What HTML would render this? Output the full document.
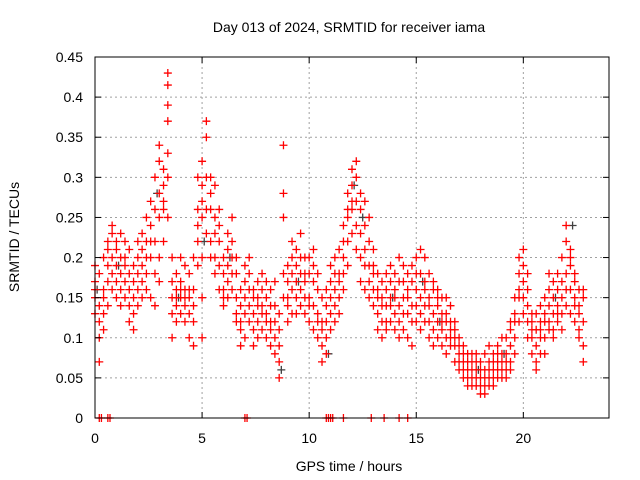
<!DOCTYPE html>
<html><head><meta charset="utf-8"><style>
body{margin:0;background:#fff;}
svg{display:block;font-family:"Liberation Sans",sans-serif;}
</style></head><body>
<svg id="chart" width="640" height="480" viewBox="0 0 640 480">
<rect width="640" height="480" fill="#fff"/>
<text x="349" y="32" font-size="14" text-anchor="middle">Day 013 of 2024, SRMTID for receiver iama</text>
<g id="grid"></g>
<g id="marks"></g>
<g id="axes"></g>
<text x="349" y="471" font-size="14" text-anchor="middle">GPS time / hours</text>
<text transform="translate(19,237) rotate(-90)" font-size="14" text-anchor="middle">SRMTID / TECUs</text>
</svg>
<script>
const xTicks=[0,5,10,15,20];
const yTicks=[0,0.05,0.1,0.15,0.2,0.25,0.3,0.35,0.4,0.45];
const yTickLabels=["0","0.05","0.1","0.15","0.2","0.25","0.3","0.35","0.4","0.45"];
const times=[0.0,0.2,0.4,0.6,0.8,1.0,1.2,1.4,1.6,1.8,2.0,2.2,2.4,2.6,2.8,3.0,3.2,3.4,3.6,3.8,4.0,4.2,4.4,4.6,4.8,5.0,5.2,5.4,5.6,5.8,6.0,6.2,6.4,6.6,6.8,7.0,7.2,7.4,7.6,7.8,8.0,8.2,8.4,8.6,8.8,9.0,9.2,9.4,9.6,9.8,10.0,10.2,10.4,10.6,10.8,11.0,11.2,11.4,11.6,11.8,12.0,12.2,12.4,12.6,12.8,13.0,13.2,13.4,13.6,13.8,14.0,14.2,14.4,14.6,14.8,15.0,15.2,15.4,15.6,15.8,16.0,16.2,16.4,16.6,16.8,17.0,17.2,17.4,17.6,17.8,18.0,18.2,18.4,18.6,18.8,19.0,19.2,19.4,19.6,19.8,20.0,20.2,20.4,20.6,20.8,21.0,21.2,21.4,21.6,21.8,22.0,22.2,22.4,22.6,22.8];
const vals=[[.17,.15,.13,.19,.16],[.12,.07,.14,.10,.18],[.13,.16,.2,.11,.15],[.19,.22,.17,.14,.21],[.2,.24,.18,.16,.23],[.21,.17,.19,.15,.22],[.18,.2,.16,.23,.14],[.19,.15,.17,.22,.2],[.14,.12,.16,.18,.21],[.13,.15,.11,.17,.19],[.16,.2,.22,.14,.18],[.19,.23,.17,.15,.21],[.22,.25,.18,.16,.2],[.24,.27,.2,.15,.22],[.26,.3,.22,.18,.14],[.34,.32,.28,.25,.2,.17],[.29,.26,.22,.27,.31],[.43,.415,.39,.37,.33,.3,.25],[.2,.17,.13,.1,.15],[.16,.14,.18,.12,.15],[.15,.17,.13,.2,.16],[.14,.16,.19,.15,.12],[.13,.1,.15,.18,.16],[.12,.09,.16,.14,.2],[.26,.3,.22,.19,.24],[.29,.32,.27,.25,.2,.15,.1],[.35,.37,.3,.26,.23],[.28,.3,.26,.22,.2],[.25,.29,.23,.2,.18],[.22,.26,.19,.16,.24],[.15,.18,.2,.14,.16],[.17,.21,.15,.23,.19],[.22,.25,.2,.18,.16],[.18,.15,.2,.13,.12],[.12,.09,.14,.11,.16],[.13,.15,.1,.17,.19],[.16,.14,.18,.12,.2],[.13,.16,.11,.15,.09],[.15,.12,.17,.14,.1],[.14,.18,.11,.16,.13],[.13,.1,.15,.17,.12],[.11,.14,.16,.09,.12],[.12,.08,.14,.1,.17],[.07,.05,.09,.11,.13],[.34,.28,.25,.15,.18],[.14,.17,.12,.19,.15],[.16,.2,.13,.18,.22],[.19,.21,.17,.15,.13],[.2,.23,.18,.16,.14],[.18,.15,.2,.13,.17],[.15,.12,.18,.2,.14],[.17,.14,.11,.19,.21],[.13,.1,.16,.12,.18],[.12,.09,.07,.15,.11],[.1,.14,.08,.16,.12],[.13,.17,.11,.19,.15],[.16,.2,.14,.18,.12],[.18,.21,.15,.13,.17],[.2,.24,.18,.16,.22],[.25,.28,.22,.19,.26],[.29,.31,.26,.23,.27],[.3,.32,.27,.24,.21],[.26,.28,.23,.2,.17],[.24,.21,.27,.19,.16],[.22,.25,.19,.17,.15],[.18,.21,.16,.14,.19],[.16,.13,.18,.15,.11],[.15,.12,.17,.14,.1],[.14,.16,.12,.18,.11],[.17,.14,.19,.12,.15],[.16,.13,.18,.11,.15],[.14,.17,.12,.2,.1],[.15,.19,.13,.17,.11],[.16,.13,.18,.15,.1],[.14,.17,.12,.19,.09],[.16,.2,.14,.12,.18],[.18,.21,.15,.13,.11],[.17,.2,.14,.12,.16],[.15,.12,.18,.1,.14],[.13,.16,.11,.17,.09],[.14,.12,.16,.1,.15],[.12,.15,.09,.13,.11],[.13,.1,.15,.12,.08],[.11,.14,.09,.12,.1],[.09,.12,.07,.11,.1],[.07,.1,.06,.09,.08],[.06,.08,.05,.09,.07],[.05,.07,.04,.08,.06],[.06,.05,.08,.04,.07],[.05,.07,.04,.06,.08],[.06,.04,.07,.05,.03],[.05,.03,.06,.08,.04],[.06,.04,.07,.05,.09],[.05,.07,.04,.08,.06],[.06,.08,.05,.09,.07],[.07,.05,.08,.06,.1],[.08,.06,.1,.07,.05],[.09,.07,.11,.06,.12],[.1,.13,.08,.12,.15],[.15,.18,.12,.2,.16],[.17,.21,.15,.13,.19],[.14,.16,.12,.18,.1],[.1,.12,.08,.13,.11],[.09,.11,.07,.13,.06],[.1,.12,.08,.14,.11],[.12,.15,.1,.13,.08],[.14,.16,.12,.11,.18],[.15,.13,.17,.11,.1],[.16,.13,.18,.12,.14],[.17,.2,.15,.13,.11],[.18,.22,.24,.16,.14],[.19,.21,.16,.13,.2],[.15,.18,.12,.14,.17],[.13,.16,.11,.1,.14],[.12,.15,.09,.07,.16]];
const zeroTimes=[0.2,0.3,0.6,0.7,7.0,7.1,10.8,10.9,11.0,11.1,11.6,12.9,13.5,14.2,14.6];
const grayTimes=[0.1,1.1,2.9,3.9,5.1,6.3,8.7,9.5,10.9,12.1,12.5,13.9,15.3,16.1,17.9,19.1,21.5,22.3];
const grayVals=[.16,.19,.28,.15,.22,.2,.06,.17,.08,.29,.25,.15,.17,.12,.06,.08,.15,.24];

const L=95,R=609,T=57,B=418,XMAX=24,YMAX=0.45;
const sx=t=>L+(t/XMAX)*(R-L);
const sy=v=>B-(v/YMAX)*(B-T);
const NS="http://www.w3.org/2000/svg";
const grid=document.getElementById('grid'),marks=document.getElementById('marks'),axes=document.getElementById('axes');
function mk(tag,attrs,parent){const e=document.createElementNS(NS,tag);for(const k in attrs)e.setAttribute(k,attrs[k]);parent.appendChild(e);return e;}
yTicks.forEach((v,i)=>{
  const y=sy(v);
  if(i>0&&i<yTicks.length-1){const g=mk('line',{x1:L,x2:R,y1:y,y2:y,stroke:'#a0a0a0','stroke-dasharray':'2,3'},grid);
  
  }
  const t=mk('text',{x:L-12,y:y+5,'font-size':14,'text-anchor':'end'},axes);t.textContent=yTickLabels[i];
  
  
  mk('line',{x1:L,x2:L+6,y1:y,y2:y,stroke:'#000'},axes);
  mk('line',{x1:R,x2:R-6,y1:y,y2:y,stroke:'#000'},axes);
});
xTicks.forEach(v=>{
  const x=sx(v);
  if(v>0){const g=mk('line',{x1:x,x2:x,y1:T,y2:B,stroke:'#a0a0a0','stroke-dasharray':'2,3'},grid);
  
  }
  const t=mk('text',{x:x,y:443,'font-size':14,'text-anchor':'middle'},axes);t.textContent=String(v);
  
  
  mk('line',{x1:x,x2:x,y1:B,y2:B-6,stroke:'#000'},axes);
  mk('line',{x1:x,x2:x,y1:T,y2:T+6,stroke:'#000'},axes);
});
const frame=mk('rect',{x:L,y:T,width:R-L,height:B-T,fill:'none',stroke:'#000'},axes);


function plus(t,v,color,name){
  const x=sx(t),y=sy(v);
  const p=mk('path',{d:`M${x-4} ${y}h8M${x} ${y-4}v8`,stroke:color,'stroke-width':1.3,fill:'none'},marks);
  
  
}
grayTimes.forEach((t,i)=>plus(t,grayVals[i],'#404040','gray-point'));
times.forEach((t,i)=>vals[i].forEach(v=>plus(t,v,'#ff0000','srmtid-point')));
zeroTimes.forEach(t=>plus(t,0,'#ff0000','zero-point'));
</script>
</body></html>
